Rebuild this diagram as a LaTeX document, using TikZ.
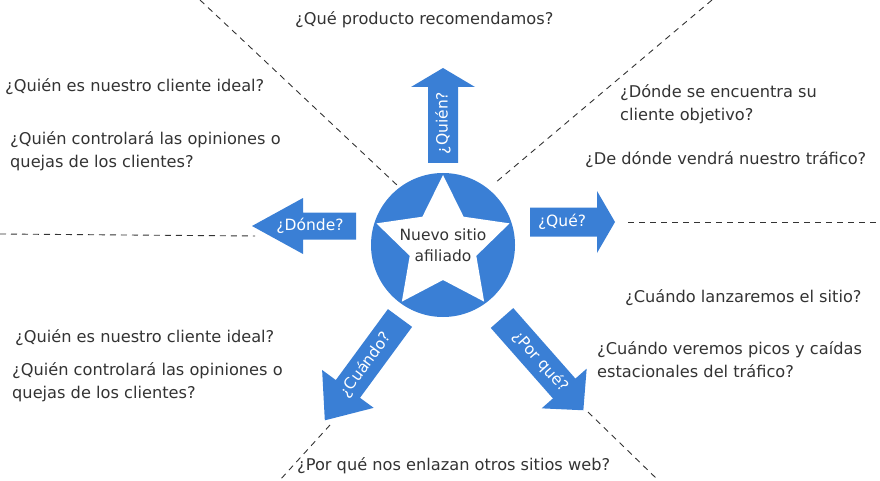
\documentclass[tikz,border=0pt]{standalone}
\usepackage{fontspec}
\setmainfont{DejaVu Sans}
\definecolor{blu}{HTML}{3A7FD5}
\definecolor{txt}{HTML}{333333}
\begin{document}
\begin{tikzpicture}[x=1pt,y=1pt,
  q/.style={anchor=west,text=txt,font=\fontsize{16.2}{23}\selectfont,align=left,inner sep=0pt},
  dl/.style={line width=0.9pt,dash pattern=on 6pt off 5pt,black!80},
  al/.style={text=white,font=\fontsize{15.5}{20}\selectfont,inner sep=0pt}]
\useasboundingbox (0,0) rectangle (880,480);
% dashed lines
\coordinate (d1a) at (200,480); \coordinate (d1b) at (398,294);
\coordinate (d2a) at (712,480); \coordinate (d2b) at (495,297);
\coordinate (d3a) at (0,246); \coordinate (d3b) at (255,244);
\coordinate (d4a) at (628,258); \coordinate (d4b) at (880,258);
\coordinate (d5a) at (330,55); \coordinate (d5b) at (280,0);
\coordinate (d6a) at (588,68); \coordinate (d6b) at (658,0);
\foreach \a/\b in {d1a/d1b,d2a/d2b,d3a/d3b,d4a/d4b,d5a/d5b,d6a/d6b} \draw[dl] (\a) -- (\b);
% hub
\node[circle,fill=blu,minimum size=144pt,inner sep=0pt] (hub) at (443,235) {};
\fill[white] (hub.center) +(90:70) -- +(126:35) -- +(162:70) -- +(198:35) -- +(234:70)
  -- +(270:35) -- +(306:70) -- +(342:35) -- +(18:70) -- +(54:35) -- cycle;
\node[text=txt,font=\fontsize{15.5}{21}\selectfont,align=center] (hubt) at (443,235) {Nuevo sitio\\afiliado};
% arrows
\begin{scope}[shift={(443,317)},rotate=90]
  \fill[blu] (0,-15) -- (76,-15) -- (76,-32) -- (95,0) -- (76,32) -- (76,15) -- (0,15) -- cycle;
  \node[al,rotate=90] (quien) at (40,0) {¿Quién?};
\end{scope}
\begin{scope}[shift={(356,254)},rotate=180]
  \fill[blu] (0,-13.5) -- (53,-13.5) -- (53,-28) -- (104,0) -- (53,28) -- (53,13.5) -- (0,13.5) -- cycle;
  \node[al] (donde) at (46,0) {¿Dónde?};
\end{scope}
\begin{scope}[shift={(530,258)}]
  \fill[blu] (0,-14.5) -- (67,-14.5) -- (67,-31) -- (85,0) -- (67,31) -- (67,14.5) -- (0,14.5) -- cycle;
  \node[al] (que) at (32,0) {¿Qué?};
\end{scope}
\begin{scope}[shift={(400,162)},rotate=233.7]
  \fill[blu] (0,-15) -- (88,-15) -- (88,-32) -- (127,0) -- (88,32) -- (88,15) -- (0,15) -- cycle;
  \node[al,rotate=53.7] (cuando) at (58,0) {¿Cuándo?};
\end{scope}
\begin{scope}[shift={(502,162)},rotate=-48.6]
  \fill[blu] (0,-15) -- (94,-15) -- (94,-30) -- (123,0) -- (94,30) -- (94,15) -- (0,15) -- cycle;
  \node[al,rotate=-48.6] (porque) at (58,0) {¿Por qué?};
\end{scope}
% questions
\node[q] (t1) at (295,460) {¿Qué producto recomendamos?};
\node[q] (t2) at (5,393) {¿Quién es nuestro cliente ideal?};
\node[q] (t3) at (10,329) {¿Quién controlará las opiniones o\\quejas de los clientes?};
\node[q] (t4) at (620,376) {¿Dónde se encuentra su\\cliente objetivo?};
\node[q] (t5) at (585,320) {¿De dónde vendrá nuestro tráfico?};
\node[q] (t6) at (625,182) {¿Cuándo lanzaremos el sitio?};
\node[q] (t7) at (597,120) {¿Cuándo veremos picos y caídas\\estacionales del tráfico?};
\node[q] (t8) at (15,142) {¿Quién es nuestro cliente ideal?};
\node[q] (t9) at (12,98) {¿Quién controlará las opiniones o\\quejas de los clientes?};
\node[q] (t10) at (297,14) {¿Por qué nos enlazan otros sitios web?};
\end{tikzpicture}
\end{document}
